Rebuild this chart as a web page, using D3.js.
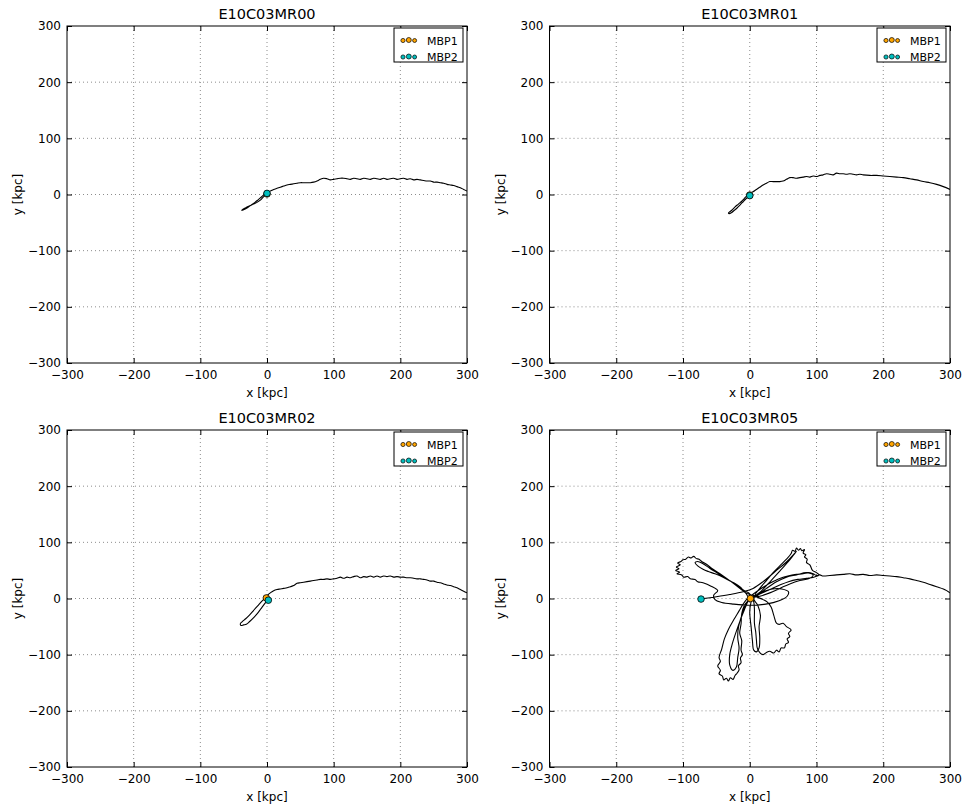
<!DOCTYPE html>
<html><head><meta charset="utf-8">
<script src="https://cdn.jsdelivr.net/npm/d3@7"></script>
<style>
body{margin:0;background:#fff;}
svg{font-family:"DejaVu Sans",sans-serif;}
</style></head>
<body><svg id="c" width="964" height="806"></svg>
<script>
// ---------- data ----------
const titles = ["E10C03MR00","E10C03MR01","E10C03MR02","E10C03MR05"];
const tickValues = [-300,-200,-100,0,100,200,300];
const legendLabels = ["MBP1","MBP2"];
const xLabel = "x [kpc]";
const yLabel = "y [kpc]";

const trackMR00 = [[300,6],[295,9],[290,12],[285,14],[280,16],[275,17],[270,18],[265,20],[260,21],[255,22],[250,22],[245,24],[240,24],[235,25],[230,26],[225,27],[220,26],[215,28],[210,27],[205,29],[200,28],[195,27],[190,29],[185,28],[180,27],[175,29],[170,27],[165,28],[160,29],[155,27],[150,28],[145,29],[140,27],[135,28],[130,29],[125,27],[120,28],[115,29],[110,29],[105,28],[100,27],[95,26],[90,28],[85,29],[80,27],[75,24],[70,22],[65,21],[60,21],[55,21],[50,21],[45,20],[40,19],[35,18],[30,17],[25,15],[20,13],[15,11],[10,9],[5,6],[0,3],[-4,0],[-8,-4],[-13,-9],[-18,-14],[-24,-19],[-30,-24],[-35,-27],[-38,-28],[-36,-26],[-31,-23],[-26,-20],[-20,-17],[-15,-14],[-10,-10],[-6,-5],[-2,-1],[0,1]];

const trackMR01 = [[300,9],[290,14],[280,18],[270,21],[260,23],[250,26],[240,28],[230,30],[220,31],[210,32],[200,33],[190,34],[180,34],[170,35],[165,36],[160,35],[155,36],[150,37],[145,36],[140,37],[135,37],[130,38],[125,35],[120,36],[115,37],[110,35],[105,34],[100,32],[95,33],[90,31],[85,32],[80,31],[75,30],[70,29],[65,30],[60,30],[55,27],[50,24],[45,23],[40,23],[35,23],[30,23],[25,20],[20,17],[15,13],[10,9],[5,5],[0,2],[-4,-2],[-8,-7],[-12,-12],[-17,-17],[-22,-22],[-27,-28],[-32,-33],[-31,-34],[-27,-32],[-23,-28],[-19,-24],[-14,-18],[-10,-13],[-6,-8],[-2,-4],[0,-2]];

const trackMR02 = [[300,10],[295,13],[290,16],[285,19],[280,21],[275,23],[270,24],[265,26],[260,28],[255,29],[250,31],[245,31],[240,33],[235,34],[230,35],[225,35],[220,36],[215,37],[210,37],[205,38],[200,38],[195,39],[190,38],[185,40],[180,39],[175,40],[170,38],[165,40],[160,38],[155,40],[150,38],[145,39],[140,37],[135,40],[130,39],[125,37],[120,38],[115,36],[110,38],[105,36],[100,35],[95,34],[90,35],[85,34],[80,34],[75,33],[70,32],[65,31],[60,30],[55,29],[50,28],[45,27],[40,23],[35,21],[30,19],[25,18],[20,17],[15,16],[10,14],[5,10],[1,6],[-3,1],[-8,-5],[-14,-13],[-20,-21],[-26,-29],[-32,-36],[-37,-41],[-40,-45],[-39,-48],[-35,-47],[-31,-46],[-26,-41],[-20,-34],[-14,-26],[-9,-18],[-4,-10],[0,-4],[2,-1]];

const trackMR05 = [
 [300,10],[295,14],[290,17],[280,21],[270,25],[260,29],[250,32],[240,35],[230,37],[220,39],[210,40],[200,41],[190,42],[180,41],[170,43],[160,42],[150,44],[140,43],[130,42],[120,41],[110,40],[105,42],[100,41],[95,44],[88,46],[80,44],[70,43],[60,41],[50,38],[40,33],[30,27],[20,20],[10,12],[2,5],[-5,-2],
 [-10,-10],[-16,-22],[-24,-38],[-32,-55],[-38,-72],[-42,-90],[-46,-105],[-44,-112],[-48,-120],[-44,-128],[-46,-134],[-41,-138],[-39,-145],[-35,-142],[-32,-147],[-29,-141],[-25,-144],[-22,-137],[-19,-133],[-16,-127],[-17,-120],[-13,-114],[-14,-106],[-11,-100],[-13,-92],[-12,-75],[-15,-62],[-13,-45],[-12,-27],[-8,-12],[-2,-2],
 [-5,8],[-15,18],[-28,30],[-42,42],[-55,52],[-66,62],[-72,66],[-76,70],[-80,71],[-84,75],[-88,72],[-92,74],[-96,70],[-100,69],[-103,66],[-108,63],[-104,60],[-110,56],[-106,53],[-111,50],[-105,47],[-109,44],[-102,42],[-99,38],[-93,39],[-89,35],[-82,34],[-78,30],[-70,28],[-58,22],[-48,14],
 [-54,6],[-52,-2],[-42,-7],[-24,-10],[0,-12],[24,-10],[44,-4],[56,4],[58,12],[48,17],[34,17],[20,12],[8,6],
 [15,18],[25,32],[35,46],[45,58],[55,70],[62,80],[64,86],[68,84],[70,90],[73,86],[76,89],[78,85],[82,87],[80,81],[84,78],[82,74],[86,70],[85,64],[90,60],[94,50],[100,46],[104,42],[96,38],[85,36],[72,34],[58,30],[45,24],[30,16],[15,8],[3,2],
 [6,-6],[7,-20],[7,-44],[9,-60],[10,-74],[12,-91],[20,-100],[25,-96],[30,-94],[36,-97],[40,-92],[44,-95],[47,-88],[52,-88],[54,-81],[58,-78],[56,-72],[60,-68],[58,-62],[62,-56],[55,-50],[50,-44],[44,-46],[40,-44],[36,-30],[32,-15],[26,-6],[20,-2],[12,2],[4,6],
 [-6,10],[-14,20],[-24,28],[-36,36],[-48,45],[-60,54],[-70,62],[-78,66],[-82,64],[-78,58],[-70,52],[-62,48],[-52,44],[-40,38],[-28,30],[-18,22],[-8,14],[0,8],
 [-4,-8],[-8,-20],[-14,-38],[-20,-58],[-26,-80],[-30,-100],[-30,-118],[-25,-128],[-20,-122],[-18,-105],[-16,-88],[-18,-70],[-17,-52],[-12,-30],[-6,-12],[0,-2],
 [10,4],[25,18],[40,30],[55,38],[70,42],[85,46],[95,42],[90,36],[75,32],[60,26],[45,18],[30,10],[15,4],[5,2],
 [2,-6],[0,-25],[2,-50],[4,-75],[6,-92],[10,-95],[14,-88],[15,-70],[14,-50],[16,-30],[12,-12],[6,0],
 [18,14],[32,32],[46,50],[58,66],[66,78],[70,84],
 [55,65],[38,48],[20,30],[5,18],[-10,12],[-30,7],[-50,3],[-73,-1]
];

const tracks = [trackMR00, trackMR01, trackMR02, trackMR05];
const mbp1Pos = [[0,1],[0,-1],[-1,1],[1,0]];
const mbp2Pos = [[0,2],[0,-2],[2,-3],[-73,-1]];
const colors = {mbp1:"#ffa500", mbp2:"#00bfbf"};

// ---------- layout ----------
const svg = d3.select("#c");
const panels = [
  {x0:67, x1:467, y0:26, y1:363},
  {x0:549.5, x1:950, y0:26, y1:363},
  {x0:67, x1:467, y0:430, y1:767},
  {x0:549.5, x1:950, y0:430, y1:767}
];
const fmt = d => (d<0 ? "\u2212"+Math.abs(d) : String(d));

panels.forEach((p,i)=>{
  const xs = d3.scaleLinear().domain([-300,300]).range([p.x0,p.x1]);
  const ys = d3.scaleLinear().domain([-300,300]).range([p.y1,p.y0]);
  const g = svg.append("g");
  const clipId = "clip"+i;
  g.append("clipPath").attr("id",clipId).append("rect")
    .attr("x",p.x0).attr("y",p.y0).attr("width",p.x1-p.x0).attr("height",p.y1-p.y0);

  // grid
  const grid = g.append("g").attr("stroke","#6f6f6f").attr("stroke-width",0.8).attr("stroke-dasharray","1,3");
  tickValues.slice(1,-1).forEach(t=>{
    grid.append("line").attr("x1",xs(t)).attr("x2",xs(t)).attr("y1",p.y0).attr("y2",p.y1);
    grid.append("line").attr("y1",ys(t)).attr("y2",ys(t)).attr("x1",p.x0).attr("x2",p.x1);
  });

  // trajectory
  const line = d3.line().x(d=>xs(d[0])).y(d=>ys(d[1])).curve(d3.curveCatmullRom.alpha(0.5));
  g.append("path").datum(tracks[i]).attr("d",line).attr("fill","none")
    .attr("stroke","#000").attr("stroke-width",1.1).attr("clip-path",`url(#${clipId})`);

  // points
  g.append("circle").attr("cx",xs(mbp1Pos[i][0])).attr("cy",ys(mbp1Pos[i][1])).attr("r",3.3)
    .attr("fill",colors.mbp1).attr("stroke","#000").attr("stroke-width",0.8);
  g.append("circle").attr("cx",xs(mbp2Pos[i][0])).attr("cy",ys(mbp2Pos[i][1])).attr("r",3.3)
    .attr("fill",colors.mbp2).attr("stroke","#000").attr("stroke-width",0.8);

  // axes (ticks inward, classic style)
  const ax = d3.axisBottom(xs).tickValues(tickValues).tickFormat(fmt).tickSizeInner(-5).tickSizeOuter(0).tickPadding(7);
  const ay = d3.axisLeft(ys).tickValues(tickValues).tickFormat(fmt).tickSizeInner(-5).tickSizeOuter(0).tickPadding(6);
  const axT = d3.axisTop(xs).tickValues(tickValues).tickFormat("").tickSizeInner(-5).tickSizeOuter(0);
  const ayR = d3.axisRight(ys).tickValues(tickValues).tickFormat("").tickSizeInner(-5).tickSizeOuter(0);
  [[ax,`translate(0,${p.y1})`],[ay,`translate(${p.x0},0)`],[axT,`translate(0,${p.y0})`],[ayR,`translate(${p.x1},0)`]].forEach(([a,t])=>{
    const gg = g.append("g").attr("transform",t).call(a);
    gg.select(".domain").remove();
    gg.selectAll("line").attr("stroke","#000");
    gg.selectAll("text").attr("font-family","DejaVu Sans").attr("font-size",12).attr("fill","#000");
  });

  g.append("rect").attr("x",p.x0).attr("y",p.y0).attr("width",p.x1-p.x0).attr("height",p.y1-p.y0)
    .attr("fill","none").attr("stroke","#000").attr("stroke-width",1);

  // labels
  g.append("text").attr("x",(p.x0+p.x1)/2).attr("y",p.y0-7).attr("text-anchor","middle")
    .attr("font-size",14.5).text(titles[i]);
  g.append("text").attr("x",(p.x0+p.x1)/2).attr("y",p.y1+34).attr("text-anchor","middle")
    .attr("font-size",12).text(xLabel);
  g.append("text").attr("transform",`translate(${p.x0-45},${(p.y0+p.y1)/2}) rotate(-90)`)
    .attr("text-anchor","middle").attr("font-size",12).text(yLabel);

  // legend
  const lx = p.x1-73, ly = p.y0+2;
  const lg = g.append("g");
  lg.append("rect").attr("x",lx).attr("y",ly).attr("width",69).attr("height",34)
    .attr("fill","#fff").attr("stroke","#000").attr("stroke-width",1);
  const sizes = [2.1,2.5,2.0];
  [colors.mbp1, colors.mbp2].forEach((c,k)=>{
    const yy = ly+12.5+k*16.5;
    sizes.forEach((r,j)=>{
      lg.append("circle").attr("cx",lx+9+j*5.8).attr("cy",yy-(j===1?0.5:0)).attr("r",r)
        .attr("fill",c).attr("stroke","#000").attr("stroke-width",0.7);
    });
    lg.append("text").attr("x",lx+33).attr("y",yy+4).attr("font-size",11).text(legendLabels[k]);
  });
});
</script></body></html>
